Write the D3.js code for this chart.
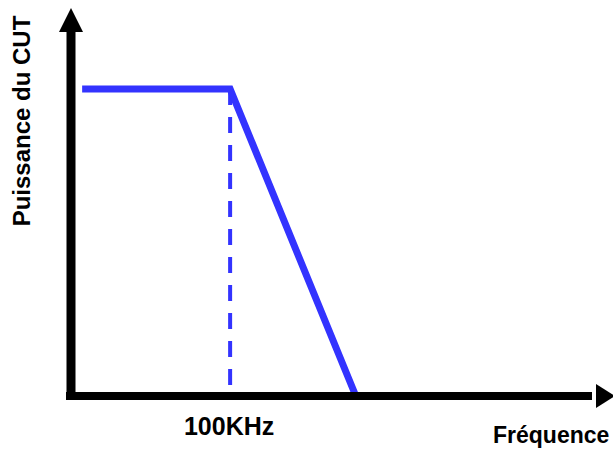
<!DOCTYPE html>
<html>
<head>
<meta charset="utf-8">
<script src="https://cdn.jsdelivr.net/npm/d3@7"></script>
<style>
  body { margin: 0; background: #fff; }
  svg { display: block; }
  text { font-family: "Liberation Sans", Arial, sans-serif; font-weight: bold; fill: #000; }
</style>
</head>
<body>
<svg id="chart" width="613" height="450"></svg>
<script>
// -- data -- //
let freqKHz = [7, 100, 179];          // start, cut-off, end of the response
let power = [1, 1, 0];                // relative power of the CUT
let cutoffKHz = 100;
let tickLabels = ["100KHz"];
let xTitle = "Fréquence";
let yTitle = "Puissance du CUT";

let width = 613, height = 450;
let svg = d3.select("#chart");

let xScale = d3.scaleLinear().domain([0, 340]).range([71, 612]);
let yScale = d3.scaleLinear().domain([0, 1.264]).range([396, 8]);

let blue = "#3333ff";

// -- response curve -- //
let pts = freqKHz.map((f, i) => ({ f: f, p: power[i] }));
let line = d3.line().x(d => xScale(d.f)).y(d => yScale(d.p));

// dashed cut-off marker
svg.append("line")
  .attr("x1", xScale(cutoffKHz)).attr("x2", xScale(cutoffKHz))
  .attr("y1", yScale(1)).attr("y2", yScale(0))
  .style("stroke", blue)
  .style("stroke-width", 4)
  .style("stroke-dasharray", "16,12");

svg.append("path")
  .datum(pts)
  .attr("d", line)
  .style("fill", "none")
  .style("stroke", blue)
  .style("stroke-width", 7)
  .style("stroke-linejoin", "miter");

// -- axes with arrows -- //
let x0 = xScale(0), y0 = yScale(0);
let xEnd = xScale.range()[1], yEnd = yScale.range()[1];

svg.append("line")
  .attr("x1", x0).attr("x2", x0)
  .attr("y1", y0 + 4).attr("y2", yEnd + 20)
  .style("stroke", "#000").style("stroke-width", 9);
svg.append("path")
  .attr("d", `M${x0},${yEnd} L${x0 + 12},${yEnd + 24} L${x0 - 12},${yEnd + 24} Z`)
  .style("fill", "#000");

svg.append("line")
  .attr("x1", x0 - 5).attr("x2", xEnd - 20)
  .attr("y1", y0).attr("y2", y0)
  .style("stroke", "#000").style("stroke-width", 8);
svg.append("path")
  .attr("d", `M${xEnd + 3},${y0} L${xEnd - 16},${y0 - 12} L${xEnd - 16},${y0 + 12} Z`)
  .style("fill", "#000");

// -- labels -- //
svg.selectAll(".tickLabel")
  .data(tickLabels)
  .enter()
  .append("text")
  .attr("class", "tickLabel")
  .attr("x", xScale(cutoffKHz) - 1)
  .attr("y", 435)
  .attr("text-anchor", "middle")
  .style("font-size", "25px")
  .text(d => d);

svg.append("text")
  .attr("x", 493)
  .attr("y", 443)
  .style("font-size", "23px")
  .text(xTitle);

svg.append("text")
  .attr("transform", "translate(30,121) rotate(-90)")
  .attr("text-anchor", "middle")
  .style("font-size", "24px")
  .text(yTitle);
</script>
</body>
</html>
